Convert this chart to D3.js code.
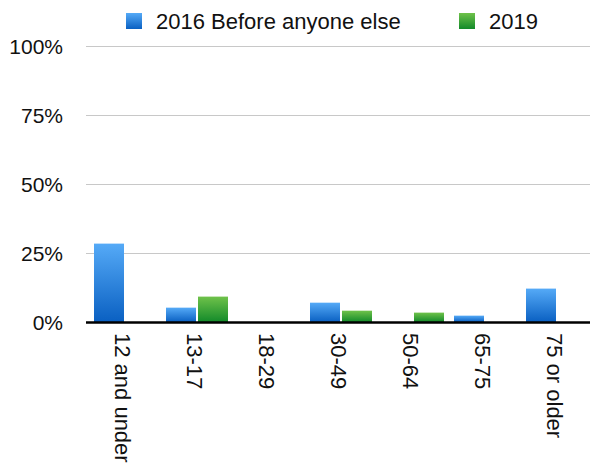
<!DOCTYPE html>
<html>
<head>
<meta charset="utf-8">
<script src="https://cdn.jsdelivr.net/npm/d3@7"></script>
<style>
  html, body { margin: 0; padding: 0; background: #fff; }
  svg { display: block; font-family: "Liberation Sans", Arial, Helvetica, sans-serif; }
</style>
</head>
<body>
<svg id="chart" width="594" height="465"></svg>
<script>
const categories = ["12 and under", "13-17", "18-29", "30-49", "50-64", "65-75", "75 or older"];
const seriesNames = ["2016 Before anyone else", "2019"];
const values2016 = [28.4, 5.2, 0, 7.0, 0, 2.3, 12.1];
const values2019 = [0, 9.2, 0, 4.1, 3.4, 0, 0];
const yTicks = [0, 25, 50, 75, 100];

(function () {
const seriesValues = [values2016, values2019];
const svg = d3.select("#chart");

const defs = svg.append("defs");
const grads = [
  { id: "gBlue", top: "#55aaf7", bottom: "#0a60c2" },
  { id: "gGreen", top: "#6fc24a", bottom: "#138a2a" }
];
grads.forEach(g => {
  const lg = defs.append("linearGradient").attr("id", g.id)
    .attr("x1", 0).attr("y1", 0).attr("x2", 0).attr("y2", 1);
  lg.append("stop").attr("offset", "0%").attr("stop-color", g.top);
  lg.append("stop").attr("offset", "100%").attr("stop-color", g.bottom);
});

const mLeft = 86, mRight = 590, mTop = 46, mBottom = 322;
const y = d3.scaleLinear().domain([0, 100]).range([mBottom, mTop]);
const x0 = d3.scaleBand().domain(categories).range([mLeft, mRight]).padding(0);
const x1 = d3.scaleBand().domain(seriesNames).range([8, 70]).paddingInner(0.0625);

// gridlines
svg.append("g").selectAll("line").data(yTicks.filter(t => t > 0)).join("line")
  .attr("x1", mLeft).attr("x2", mRight)
  .attr("y1", d => y(d) + 0.5).attr("y2", d => y(d) + 0.5)
  .attr("stroke", "#c8c8c8").attr("stroke-width", 1);

// y tick labels
svg.append("g").selectAll("text").data(yTicks).join("text")
  .attr("x", 63).attr("y", d => y(d))
  .attr("dy", "0.37em")
  .attr("text-anchor", "end")
  .attr("font-size", 21)
  .attr("fill", "#111")
  .text(d => d + "%");

// bars
const fills = ["url(#gBlue)", "url(#gGreen)"];
const barData = [];
categories.forEach((c, i) => {
  seriesNames.forEach((s, j) => {
    barData.push({ c, s, v: seriesValues[j][i], j });
  });
});
svg.append("g").selectAll("rect").data(barData.filter(d => d.v > 0)).join("rect")
  .attr("x", d => x0(d.c) + x1(d.s))
  .attr("width", x1.bandwidth())
  .attr("y", d => y(d.v))
  .attr("height", d => y(0) - y(d.v))
  .attr("fill", d => fills[d.j]);

// x axis line
svg.append("line")
  .attr("x1", mLeft).attr("x2", mRight)
  .attr("y1", mBottom + 0.5).attr("y2", mBottom + 0.5)
  .attr("stroke", "#000").attr("stroke-width", 2.5);

// x labels (rotated)
svg.append("g").selectAll("text").data(categories).join("text")
  .attr("transform", d => `translate(${x0(d) + x0.bandwidth() / 2 + 1},333) rotate(90)`)
  .attr("dy", "0.35em")
  .attr("text-anchor", "start")
  .attr("font-size", 22)
  .attr("fill", "#111")
  .text(d => d);

// legend
const legendItems = [
  { name: seriesNames[0], fill: fills[0], sx: 126, tx: 156 },
  { name: seriesNames[1], fill: fills[1], sx: 459, tx: 489 }
];
const lg = svg.append("g");
lg.selectAll("rect").data(legendItems).join("rect")
  .attr("x", d => d.sx).attr("y", 13).attr("width", 16).attr("height", 16)
  .attr("fill", d => d.fill);
lg.selectAll("text").data(legendItems).join("text")
  .attr("x", d => d.tx).attr("y", 28.5)
  .attr("font-size", 22)
  .attr("fill", "#111")
  .text(d => d.name);
})();
</script>
</body>
</html>
